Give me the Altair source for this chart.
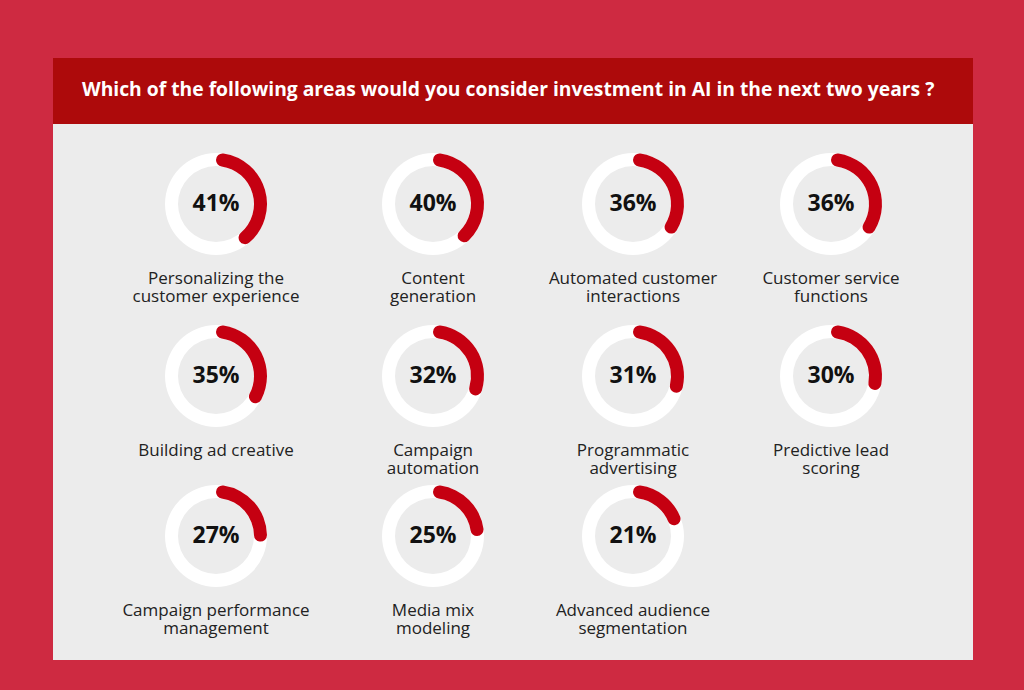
import altair as alt
import pandas as pd
import math

# ---- data ----
labels = [
    "Personalizing the\ncustomer experience",
    "Content\ngeneration",
    "Automated customer\ninteractions",
    "Customer service\nfunctions",
    "Building ad creative",
    "Campaign\nautomation",
    "Programmatic\nadvertising",
    "Predictive lead\nscoring",
    "Campaign performance\nmanagement",
    "Media mix\nmodeling",
    "Advanced audience\nsegmentation",
]
values = [41, 40, 36, 36, 35, 32, 31, 30, 27, 25, 21]
title_text = "Which of the following areas would you consider investment in AI in the next two years ?"

n_cols = 4
df = pd.DataFrame({
    "label": labels,
    "pct": values,
    "idx": list(range(len(values))),
})
df["col"] = df["idx"] % n_cols
df["row"] = df["idx"] // n_cols
df["pct_text"] = df["pct"].astype(str) + "%"
df["zero"] = 0

W, H = 1024, 690
FONT = "Open Sans"

xs = alt.Scale(domain=[0, 1, 2, 3], range=[216, 433, 633, 831], zero=False, nice=False)
ys = alt.Scale(domain=[0, 1, 2], range=[204, 376, 536], zero=False, nice=False)
x_enc = alt.X("col:Q", scale=xs, axis=None)
y_enc = alt.Y("row:Q", scale=ys, axis=None)

one = pd.DataFrame({"a": [0]})

panel = alt.Chart(one).mark_rect(color="#ECECEC").encode(
    x=alt.value(53), x2=alt.value(973), y=alt.value(58), y2=alt.value(660)
)
header = alt.Chart(one).mark_rect(color="#AD0A0B").encode(
    x=alt.value(53), x2=alt.value(973), y=alt.value(58), y2=alt.value(124)
)
title = alt.Chart(one).mark_text(
    text=title_text, align="left", baseline="middle", font=FONT,
    fontSize=19.3, fontWeight="bold", color="white"
).encode(x=alt.value(82), y=alt.value(90))

base = alt.Chart(df)

ring = base.mark_arc(
    theta=0, theta2=2 * math.pi, radius=51, radius2=38, color="white"
).encode(x=x_enc, y=y_enc)

arc = base.mark_arc(radius=51, radius2=38, color="#C50011", cornerRadius=6.5).encode(
    x=x_enc, y=y_enc,
    theta=alt.Theta("zero:Q", scale=alt.Scale(domain=[0, 100], range=[0, 2 * math.pi]), stack=None),
    theta2=alt.Theta2("pct:Q"),
)

pct_txt = base.mark_text(
    font=FONT, fontSize=23, fontWeight="bold", color="#111111", baseline="middle"
).encode(x=x_enc, y=y_enc, text="pct_text:N")

lbl = base.mark_text(
    font=FONT, fontSize=17, color="#222222", baseline="middle", lineBreak="\n",
    lineHeight=17.5, dy=75
).encode(x=x_enc, y=y_enc, text="label:N")

chart = alt.layer(panel, header, title, ring, arc, pct_txt, lbl).properties(
    width=W, height=H, autosize="none", padding=0, background="#CE2A41"
).configure_view(stroke=None)

chart.save("out.html", embed_options={"renderer": "svg", "actions": False})
